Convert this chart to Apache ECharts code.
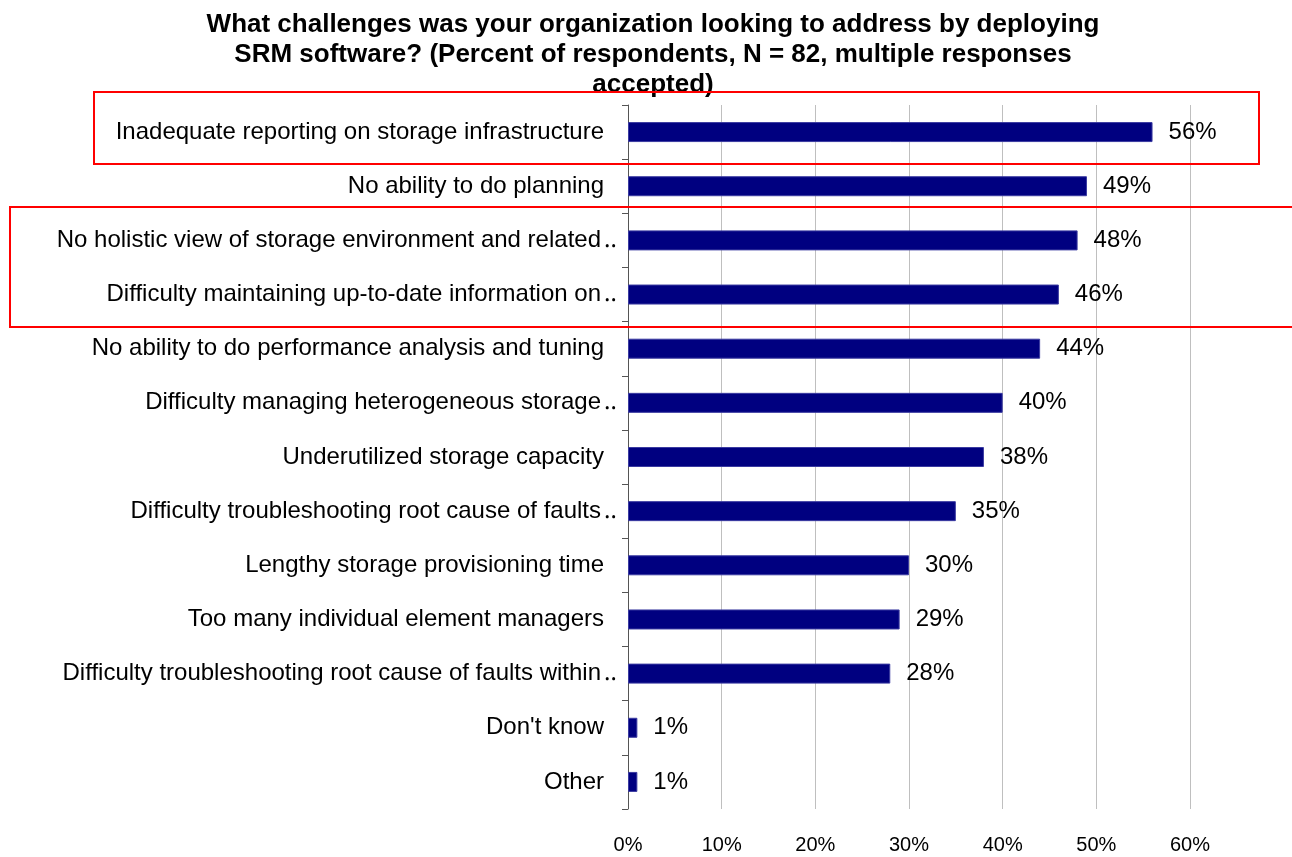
<!DOCTYPE html>
<html><head><meta charset="utf-8">
<script src="https://cdn.jsdelivr.net/npm/echarts@6/dist/echarts.min.js"></script>
<style>html,body{margin:0;padding:0;background:#fff}#c{width:1292px;height:857px}</style>
</head><body><div id="c"></div>
<script>
const titleLines = [
  "What challenges was your organization looking to address by deploying",
  "SRM software? (Percent of respondents, N = 82, multiple responses",
  "accepted)"
];
const categories = [
  "Inadequate reporting on storage infrastructure",
  "No ability to do planning",
  "No holistic view of storage environment and related\u2025",
  "Difficulty maintaining up-to-date information on\u2025",
  "No ability to do performance analysis and tuning",
  "Difficulty managing heterogeneous storage\u2025",
  "Underutilized storage capacity",
  "Difficulty troubleshooting root cause of faults\u2025",
  "Lengthy storage provisioning time",
  "Too many individual element managers",
  "Difficulty troubleshooting root cause of faults within\u2025",
  "Don't know",
  "Other"
];
const values = [56, 49, 48, 46, 44, 40, 38, 35, 30, 29, 28, 1, 1];
const xTicks = { min: 0, max: 60, step: 10 };

const FONT = 'Arial, "Liberation Sans", sans-serif';
const chart = echarts.init(document.getElementById('c'), null, {renderer: 'canvas'});
chart.setOption({
  backgroundColor: '#fff',
  animation: false,
  title: {
    text: titleLines.join('\n'),
    left: 648, top: 5, textAlign: 'center',
    textStyle: {fontFamily: FONT, fontSize: 26, fontWeight: 'bold', color: '#000', lineHeight: 30}
  },
  grid: {left: 628, right: 102, top: 105, bottom: 48, containLabel: false},
  xAxis: {
    type: 'value', min: xTicks.min, max: xTicks.max, interval: xTicks.step,
    axisLine: {show: false}, axisTick: {show: false},
    axisLabel: {formatter: '{value}%', fontFamily: FONT, fontSize: 20, color: '#000', margin: 26},
    splitLine: {show: true, lineStyle: {color: '#bfbfbf', width: 1}}
  },
  yAxis: {
    type: 'category', data: categories, inverse: true,
    axisLine: {show: true, lineStyle: {color: '#555', width: 1}},
    axisTick: {show: true, length: 6, alignWithLabel: false, lineStyle: {color: '#555'}},
    axisLabel: {
      fontFamily: FONT, fontSize: 24, color: '#000', margin: 24,
      formatter: function (v) {
        if (v.endsWith('\u2025')) return '{t|' + v.slice(0, -1) + '}{e|\u2025}';
        return '{t|' + v + '}';
      },
      rich: {
        t: {fontFamily: FONT, fontSize: 24, color: '#000', align: 'left'},
        e: {fontFamily: FONT, fontSize: 24, color: '#000', width: 0, align: 'left', padding: [0, 0, 0, 3]}
      }
    },
    splitLine: {show: false}
  },
  series: [{
    type: 'bar', data: values, barWidth: 20,
    itemStyle: {color: '#000080', borderColor: '#3a3aa0', borderWidth: 1},
    label: {show: true, position: 'right', distance: 16, formatter: '{c}%',
      fontFamily: FONT, fontSize: 24, color: '#000'}
  }],
  graphic: [
    {type: 'rect', shape: {x: 94, y: 92, width: 1165, height: 72},
      style: {fill: 'none', stroke: '#ff0000', lineWidth: 2}, z: 100},
    {type: 'rect', shape: {x: 10, y: 207, width: 1300, height: 120},
      style: {fill: 'none', stroke: '#ff0000', lineWidth: 2}, z: 100}
  ]
});
</script></body></html>
